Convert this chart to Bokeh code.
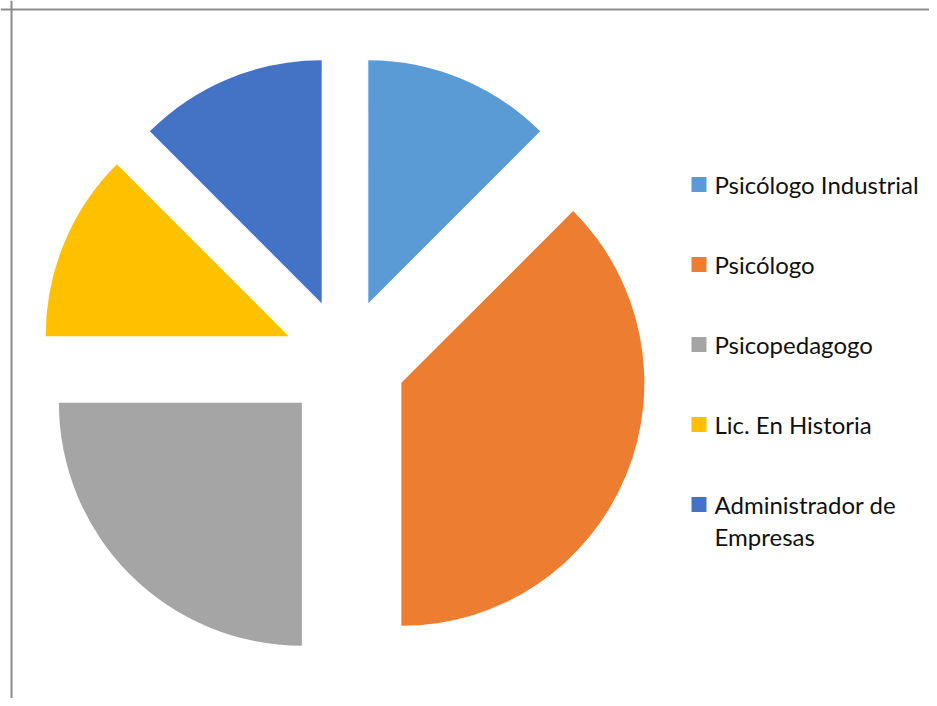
import math
import textwrap
from bokeh.plotting import figure
from bokeh.models import Range1d, Span, ColumnDataSource
from bokeh.core.properties import value
from bokeh.embed import file_html
from bokeh.resources import INLINE

# ---- data ----
categories = ["Psicólogo Industrial", "Psicólogo", "Psicopedagogo",
              "Lic. En Historia", "Administrador de Empresas"]
counts = [1, 3, 2, 1, 1]
colors = ["#5B9BD5", "#ED7D31", "#A5A5A5", "#FFC000", "#4472C4"]

# ---- layout (pixels of the plot frame) ----
W, H = 929, 698
CX, CY = 344.5, 339.0      # pie centre
R = 243.0                  # radius
EXPLODE = 61.0             # explosion offset
FONT = "Lato"
FONT_SIZE = "24px"

total = float(sum(counts))
xs, ys, starts, ends = [], [], [], []
acc = 0.0
for c in counts:
    a0 = acc / total * 2 * math.pi          # clockwise from 12 o'clock
    a1 = (acc + c) / total * 2 * math.pi
    mid = (a0 + a1) / 2
    xs.append(CX + EXPLODE * math.sin(mid))
    ys.append(CY + EXPLODE * math.cos(mid))
    starts.append(math.pi / 2 - a1)
    ends.append(math.pi / 2 - a0)
    acc += c

src = ColumnDataSource(dict(x=xs, y=ys, start=starts, end=ends, color=colors,
                            label=categories))

p = figure(width=W, height=H, output_backend="svg", toolbar_location=None,
           x_range=Range1d(0, W), y_range=Range1d(0, H), min_border=0,
           outline_line_color=None, background_fill_color="white")
p.xaxis.visible = False
p.yaxis.visible = False
p.grid.visible = False

p.wedge(x="x", y="y", radius=R, start_angle="start", end_angle="end",
        fill_color="color", line_color=None, source=src)

# chart border (only left/top visible in the window)
p.add_layout(Span(location=11, dimension="height", line_color="#8C8C8C", line_width=2))
p.add_layout(Span(location=H - 9, dimension="width", line_color="#8C8C8C", line_width=2))

# legend
LX_SQ, LX_TX = 698.5, 714.0
LY0, LSTEP, LLINE = 514.0, 80.0, 32.0
sq_x, sq_y, tx_x, tx_y, tx = [], [], [], [], []
for i, (lab, col) in enumerate(zip(categories, colors)):
    yrow = LY0 - i * LSTEP
    sq_x.append(LX_SQ)
    sq_y.append(yrow)
    for j, line in enumerate(textwrap.wrap(lab, 20)):
        tx_x.append(LX_TX)
        tx_y.append(yrow - j * LLINE)
        tx.append(line)

p.scatter(x=sq_x, y=sq_y, marker="square", size=15, fill_color=colors, line_color=None)
p.text(x=tx_x, y=tx_y, text=tx, text_font=value(FONT), text_font_size=FONT_SIZE,
       text_baseline="middle", text_align="left", text_color="#111111")

open("out.html", "w").write(file_html(p, INLINE))
